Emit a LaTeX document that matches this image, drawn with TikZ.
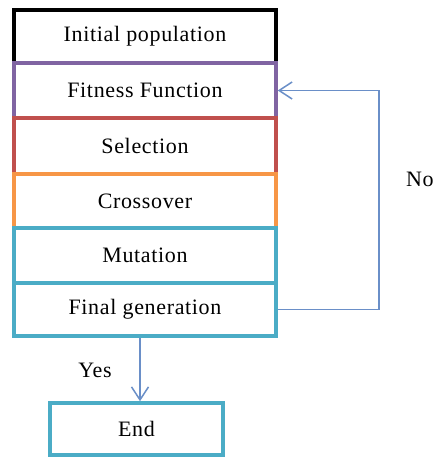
\documentclass[tikz,border=0pt]{standalone}
\usepackage{fontspec}
\setmainfont{Liberation Serif}[LetterSpace=3]
\usetikzlibrary{arrows.meta}
\definecolor{cblack}{HTML}{000000}
\definecolor{cpurple}{HTML}{8064A2}
\definecolor{cred}{HTML}{C0504D}
\definecolor{corange}{HTML}{F79646}
\definecolor{cteal}{HTML}{4BACC6}
\definecolor{carrow}{HTML}{6A8FC8}
\begin{document}
\begin{tikzpicture}[x=1pt,y=1pt,
  stage/.style={draw,line width=3.5pt,minimum width=262pt,inner sep=0pt,
    font=\fontsize{22}{26}\selectfont,fill=white},
  flow/.style={draw=carrow,line width=1.5pt,
    -{Straight Barb[length=13pt,width=17pt,line width=1.5pt]}},
  lbl/.style={font=\fontsize{22}{26}\selectfont,inner sep=0pt}]
\useasboundingbox (0,0) rectangle (433,458);
\fill[white] (0,0) rectangle (433,458);
\node[stage,draw=cblack,minimum height=53pt] (init) at (145,421.5) {Initial population};
\node[stage,draw=cpurple,minimum height=55pt] (fit) at (145,367.5) {Fitness Function};
\node[stage,draw=cred,minimum height=56pt] (sel) at (145,312) {Selection};
\node[stage,draw=corange,minimum height=54pt] (cross) at (145,257) {Crossover};
\node[stage,draw=cteal,minimum height=55pt] (mut) at (145,202.5) {Mutation};
\node[stage,draw=cteal,minimum height=53pt] (final) at (145,148.5) {Final generation};
\node[stage,draw=cteal,minimum width=173pt,minimum height=52pt] (end) at (136.5,29) {End};
\coordinate (fs) at ([xshift=-5pt]final.south);
\draw[flow] (fs) -- (fs |- end.north);
\draw[flow] (final.east) -- ++(101,0) coordinate (corner) |- (fit.east);
\node[lbl] (yes) at (95,88) {Yes};
\node[lbl,anchor=west] (no) at (406,279) {No};
\end{tikzpicture}
\end{document}
